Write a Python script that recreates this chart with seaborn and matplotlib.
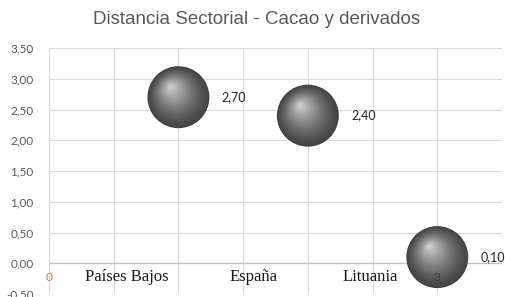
import numpy as np
import pandas as pd
import matplotlib
matplotlib.use("Agg")
import matplotlib.pyplot as plt
import matplotlib.transforms as mtransforms
import seaborn as sns

# ---- data ----
countries = ["Países Bajos", "España", "Lituania"]
x_pos = [1, 2, 3]
distance = [2.70, 2.40, 0.10]
label_x = [0.60, 1.58, 2.48]
x_tick_values = [0, 3]
y_ticks = [-0.5, 0.0, 0.5, 1.0, 1.5, 2.0, 2.5, 3.0, 3.5]

df = pd.DataFrame({"pais": countries, "x": x_pos, "distancia": distance})

sns.set_theme(style="white")
plt.rcParams["font.family"] = ["Lato", "DejaVu Sans"]

fig = plt.figure(figsize=(5.06, 2.97), dpi=100)
ax = fig.add_axes([49 / 506, 3 / 297, 453 / 506, 246 / 297])

ax.set_xlim(0, 3.5)
ax.set_ylim(-0.5, 3.5)

# gridlines
for gx in np.arange(0, 3.51, 0.5):
    ax.axvline(gx, color="#d9d9d9", lw=0.8, zorder=0)
for gy in y_ticks:
    ax.axhline(gy, color="#d9d9d9", lw=0.8, zorder=0)
ax.axhline(0, color="#bfbfbf", lw=0.9, zorder=0.5)
for s in ax.spines.values():
    s.set_visible(False)

# sphere-like bubbles
base_size = 1990
sns.scatterplot(data=df, x="x", y="distancia", s=base_size, color="#404040",
                edgecolor="none", ax=ax, zorder=2, legend=False)
n = 30
dark = np.array([0.27, 0.27, 0.27])
light = np.array([0.84, 0.84, 0.84])
for i in range(1, n):
    f = 1 - i / n
    size = base_size * f ** 2
    t = (i / n) ** 1.3
    col = dark + (light - dark) * t
    off = mtransforms.offset_copy(ax.transData, fig=fig,
                                  x=-(1 - f) * 6, y=(1 - f) * 8, units="points")
    ax.scatter(df["x"], df["distancia"], s=size, color=col, edgecolor="none",
               transform=off, zorder=2 + i * 0.01)

ax.set_xlabel("")
ax.set_ylabel("")

# y ticks
ax.set_yticks(y_ticks)
ax.set_yticklabels([f"{v:.2f}".replace(".", ",") for v in y_ticks],
                   fontsize=8.5, color="#595959")
ax.tick_params(axis="y", length=0, pad=11)
ax.set_xticks([])

# x tick labels inside plot
for xv in x_tick_values:
    ax.text(xv, -0.23, str(xv), ha="center", va="center", fontsize=8.5,
            color="#c0803a" if xv == 0 else "#404040", zorder=5)

# category labels
for name, lx in zip(countries, label_x):
    ax.text(lx, -0.23, name, ha="center", va="center", fontsize=12,
            family=["Liberation Serif", "DejaVu Serif"], color="#1a1a1a", zorder=5)

# data labels
for xv, yv in zip(x_pos, distance):
    ax.annotate(f"{yv:.2f}".replace(".", ","), (xv, yv), xytext=(31, 0),
                textcoords="offset points", ha="left", va="center",
                fontsize=9, color="#262626", zorder=6, annotation_clip=False)

fig.text(0.508, 0.935, "Distancia Sectorial - Cacao y derivados",
         ha="center", va="center", fontsize=13.5, color="#595959",
         family=["Liberation Sans", "DejaVu Sans"])

fig.savefig("out.png", dpi=100)
